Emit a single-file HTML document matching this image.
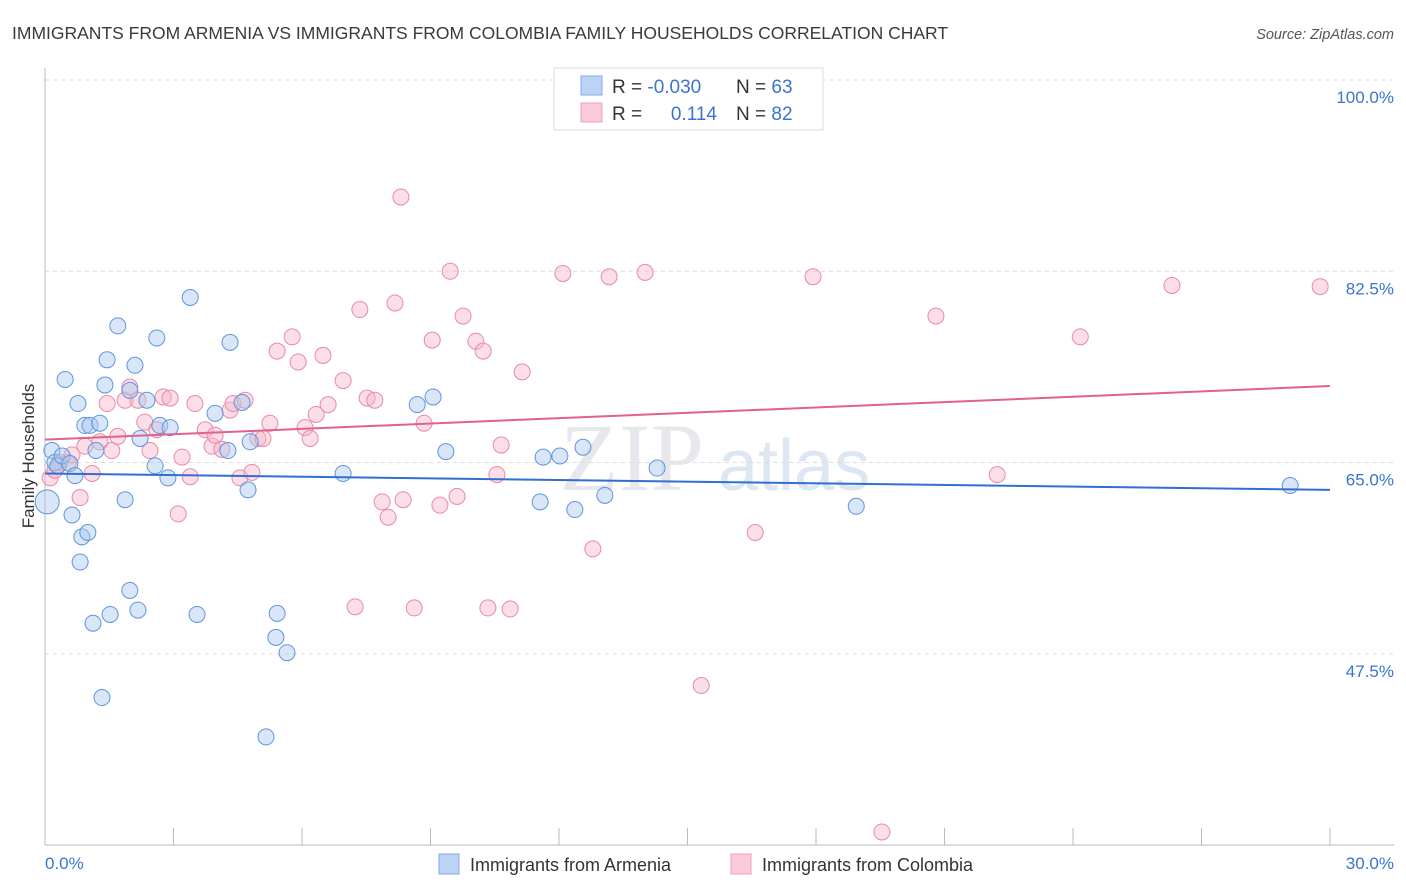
<!DOCTYPE html>
<html><head><meta charset="utf-8"><style>
body{margin:0;background:#fff;font-family:"Liberation Sans",sans-serif;}
svg{display:block}
</style></head><body>
<svg id="c" width="1406" height="892" xmlns="http://www.w3.org/2000/svg">
<text x="12" y="39" font-size="17.5" fill="#3a3a3a">IMMIGRANTS FROM ARMENIA VS IMMIGRANTS FROM COLOMBIA FAMILY HOUSEHOLDS CORRELATION CHART</text>
<text x="1394" y="39" font-size="14.5" fill="#555" font-style="italic" text-anchor="end">Source: ZipAtlas.com</text>
<text x="560" y="490" font-size="96" fill="#e6e8ee" font-family="Liberation Serif,serif">ZIP</text>
<text x="718" y="490" font-size="72" fill="#dde6f3">atlas</text>
<g id="grid"></g>
<g id="axes"></g>
<g id="pts"></g>
<text transform="translate(34,456) rotate(-90)" font-size="17" fill="#333" text-anchor="middle">Family Households</text>
<text x="45" y="869" font-size="17" fill="#3b73d0">0.0%</text>
<text x="1394" y="869" font-size="17" fill="#3b73d0" text-anchor="end">30.0%</text>
<g>
<rect x="554" y="68" width="269" height="62" fill="#fff" stroke="#ddd"/>
<rect x="581" y="76" width="21" height="19" fill="#bcd3f5" stroke="#7fa8e6"/>
<rect x="581" y="103" width="21" height="19" fill="#fbcad8" stroke="#eea0b8"/>
<text x="612" y="93" font-size="19" fill="#333">R = <tspan fill="#3b73d0">-0.030</tspan></text>
<text x="736" y="93" font-size="19" fill="#333">N = <tspan fill="#3b73d0">63</tspan></text>
<text x="612" y="120" font-size="19" fill="#333">R = </text>
<text x="717" y="120" font-size="19" fill="#3b73d0" text-anchor="end">0.114</text>
<text x="736" y="120" font-size="19" fill="#333">N = <tspan fill="#3b73d0">82</tspan></text>
</g>
<g>
<rect x="439" y="854" width="20" height="20" fill="#bcd3f5" stroke="#7fa8e6"/>
<text x="470" y="871" font-size="18" fill="#333">Immigrants from Armenia</text>
<rect x="731" y="854" width="20" height="20" fill="#fbcad8" stroke="#eea0b8"/>
<text x="762" y="871" font-size="18" fill="#333">Immigrants from Colombia</text>
</g>
</svg>
<script>
const yTicks=[100,82.5,65,47.5];
const yTickLabels=["100.0%","82.5%","65.0%","47.5%"];
const blueX=[0.05,0.16,0.23,0.3,0.4,0.47,0.58,0.63,0.7,0.77,0.82,0.86,0.93,1.0,1.05,1.12,1.19,1.28,1.33,1.4,1.45,1.52,1.7,1.87,1.98,1.98,2.1,2.17,2.22,2.38,2.57,2.61,2.68,2.87,2.92,3.39,3.55,3.97,4.27,4.32,4.6,4.74,4.79,5.16,5.42,5.39,5.65,6.96,8.69,9.06,9.36,11.56,11.63,12.02,12.37,12.56,13.07,14.29,18.94,29.07];
const blueY=[61.4,66.1,65.0,64.7,65.6,72.6,64.9,60.2,63.8,70.4,55.9,58.2,68.4,58.6,68.4,50.3,66.1,68.6,43.5,72.1,74.4,51.1,77.5,61.6,71.6,53.3,73.9,51.5,67.2,70.7,64.7,76.4,68.4,63.6,68.2,80.1,51.1,69.5,66.1,76.0,70.5,62.5,66.9,39.9,51.2,49.0,47.6,64.0,70.3,71.0,66.0,61.4,65.5,65.6,60.7,66.4,62.0,64.5,61.0,62.9];
const pinkX=[0.12,0.23,0.35,0.54,0.63,0.82,0.93,1.1,1.28,1.45,1.56,1.7,1.87,1.98,2.17,2.33,2.45,2.61,2.76,2.92,3.11,3.2,3.39,3.5,3.74,3.9,3.97,4.13,4.32,4.39,4.55,4.67,4.83,4.97,5.09,5.25,5.42,5.77,5.91,6.07,6.19,6.33,6.49,6.61,6.96,7.24,7.35,7.52,7.7,7.87,8.01,8.17,8.36,8.31,8.62,8.85,9.04,9.22,9.46,9.62,9.76,10.06,10.23,10.34,10.55,10.65,10.86,11.14,12.09,12.79,13.17,14.01,15.32,16.58,17.93,19.54,20.8,22.23,24.17,26.31,29.77];
const pinkY=[63.6,64.3,65.0,65.0,65.7,61.8,66.5,64.0,66.9,70.4,66.1,67.4,70.7,71.9,70.7,68.7,66.1,68.0,71.0,70.9,60.3,65.5,63.7,70.4,68.0,66.5,67.5,66.2,69.8,70.4,63.6,70.7,64.1,67.2,67.2,68.6,75.2,76.5,74.2,68.2,67.2,69.4,74.8,70.3,72.5,51.8,79.0,70.9,70.7,61.4,60.0,79.6,61.6,89.3,51.7,68.6,76.2,61.1,82.5,61.9,78.4,76.1,75.2,51.7,63.9,66.6,51.6,73.3,82.3,57.1,82.0,82.4,44.6,58.6,82.0,31.2,78.4,63.9,76.5,81.2,81.1];
const blueTrend=[64.0,62.5];
const pinkTrend=[67.1,72.0];
const NS="http://www.w3.org/2000/svg";
const X=v=>45+v/30*1285;
const Y=v=>80+(100-v)*10.93;
function mk(tag,attrs,parent){const e=document.createElementNS(NS,tag);for(const k in attrs)e.setAttribute(k,attrs[k]);document.getElementById(parent).appendChild(e);return e;}
yTicks.forEach((t,i)=>{
 const l=mk('line',{x1:45,x2:1394,y1:Y(t),y2:Y(t),stroke:'#ddd','stroke-dasharray':'4,4'},'grid');
 
 
 const tx=mk('text',{x:1394,y:Y(t)+23,'font-size':17,fill:'#3b73d0','text-anchor':'end'},'grid');
 tx.textContent=yTickLabels[i];
 
 
});
const ax=mk('line',{x1:45,x2:45,y1:68,y2:845,stroke:'#bbb'},'axes');


const bx=mk('line',{x1:45,x2:1394,y1:845,y2:845,stroke:'#bbb'},'axes');


for(let i=0;i<=10;i++){
 const t=mk('line',{x1:X(i*3),x2:X(i*3),y1:828,y2:845,stroke:'#bbb'},'axes');
 
 
}
function series(xs,ys,fill,stroke,name){
 xs.forEach((x,i)=>{
  const c=mk('circle',{cx:X(x),cy:Y(ys[i]),r:(i===0&&name==='armenia-point')?12:8,fill:fill,'fill-opacity':0.45,stroke:stroke,'stroke-width':1},'pts');
  
  
 });
}
series(pinkX,pinkY,'#f7b6ca','#e88aa8','colombia-point');
series(blueX,blueY,'#a9c8f0','#5f95dd','armenia-point');
const bl=mk('line',{x1:X(0),x2:X(30),y1:Y(blueTrend[0]),y2:Y(blueTrend[1]),stroke:'#2f6fd0','stroke-width':2},'pts');


const pl=mk('line',{x1:X(0),x2:X(30),y1:Y(pinkTrend[0]),y2:Y(pinkTrend[1]),stroke:'#e0628c','stroke-width':2},'pts');


</script>
</body></html>
